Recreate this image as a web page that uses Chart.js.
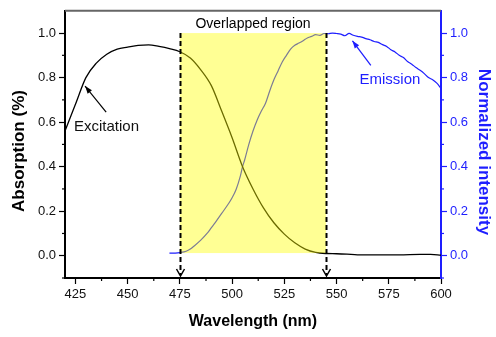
<!DOCTYPE html>
<html>
<head>
<meta charset="utf-8">
<script src="https://cdn.jsdelivr.net/npm/chart.js@4.4.1/dist/chart.umd.min.js"></script>
<style>
  body { margin: 0; background: #fff; }
  #wrap { width: 496px; height: 337px; }
</style>
</head>
<body>
<div id="wrap"><canvas id="spectraChart"></canvas></div>
<script>
  // excitation (absorption) spectrum
  const excWavelength = [420, 425, 430, 435, 440, 445, 450, 455, 460, 465, 470, 475, 480, 485, 490, 495, 500, 505, 510, 515, 520, 525, 530, 535, 540, 545, 550, 555, 560, 570, 580, 590, 595, 600];
  const excValues = [0.56, 0.68, 0.80, 0.865, 0.905, 0.928, 0.937, 0.945, 0.947, 0.94, 0.93, 0.916, 0.888, 0.835, 0.765, 0.65, 0.53, 0.40, 0.30, 0.215, 0.148, 0.097, 0.058, 0.030, 0.015, 0.010, 0.009, 0.007, 0.004, 0.004, 0.004, 0.006, 0.006, 0.003];

  // normalized emission spectrum
  const emWavelength = [470, 472, 474, 475, 478, 480, 482, 485, 488, 490, 492, 495, 498, 500, 502, 504, 505, 506, 508, 510, 512, 514, 516, 518, 520, 522, 524, 526, 528, 530, 532, 534, 536, 538, 540, 542, 544, 546, 548, 550, 552, 554, 556, 558, 560, 562, 564, 566, 568, 570, 572, 574, 576, 578, 580, 582, 584, 586, 588, 590, 592, 594, 596, 598, 600];
  const emValues = [0.012, 0.012, 0.013, 0.014, 0.02, 0.03, 0.045, 0.07, 0.10, 0.125, 0.15, 0.19, 0.23, 0.26, 0.30, 0.36, 0.40, 0.43, 0.50, 0.56, 0.61, 0.65, 0.685, 0.74, 0.79, 0.83, 0.87, 0.90, 0.928, 0.945, 0.955, 0.966, 0.978, 0.985, 0.993, 0.99, 0.998, 0.997, 1.0, 0.998, 0.995, 0.988, 0.999, 0.99, 0.985, 0.982, 0.975, 0.97, 0.962, 0.958, 0.948, 0.94, 0.925, 0.915, 0.9, 0.89, 0.872, 0.86, 0.845, 0.833, 0.818, 0.80, 0.79, 0.775, 0.752];

  const xTicks = [425, 450, 475, 500, 525, 550, 575, 600];
  const xMinorTicks = [437.5, 462.5, 487.5, 512.5, 537.5, 562.5, 587.5];
  const yTicks = [0.0, 0.2, 0.4, 0.6, 0.8, 1.0];
  const yMinorTicks = [-0.1, 0.1, 0.3, 0.5, 0.7, 0.9];

  const overlapRange = [475, 545];
  const overlapLevels = [0.012, 1.0];

  const BLUE = '#1e1eff';
  const tickFont = { family: 'Liberation Sans, Arial, sans-serif', size: 13 };

  const toPoints = (xs, ys) => xs.map((v, i) => ({ x: v, y: ys[i] }));
  const fixedTicks = list => scale => { scale.ticks = list.map(v => ({ value: v })); };

  function arrow(ctx, x1, y1, x2, y2, color) {
    const ang = Math.atan2(y2 - y1, x2 - x1);
    ctx.strokeStyle = color;
    ctx.fillStyle = color;
    ctx.lineWidth = 1.2;
    ctx.beginPath();
    ctx.moveTo(x1, y1);
    ctx.lineTo(x2, y2);
    ctx.stroke();
    ctx.beginPath();
    ctx.moveTo(x2, y2);
    ctx.lineTo(x2 - 8 * Math.cos(ang - 0.35), y2 - 8 * Math.sin(ang - 0.35));
    ctx.lineTo(x2 - 8 * Math.cos(ang + 0.35), y2 - 8 * Math.sin(ang + 0.35));
    ctx.closePath();
    ctx.fill();
  }

  const decorations = {
    id: 'decorations',
    afterDatasetsDraw(chart) {
      const { ctx, chartArea: a, scales: { x, y } } = chart;
      ctx.save();

      // overlapped band, translucent so the curves show through it
      const bx0 = x.getPixelForValue(overlapRange[0]);
      const bx1 = x.getPixelForValue(overlapRange[1]);
      const by0 = y.getPixelForValue(overlapLevels[1]);
      const by1 = y.getPixelForValue(overlapLevels[0]);
      ctx.fillStyle = 'rgba(255, 255, 0, 0.42)';
      ctx.fillRect(bx0, by0, bx1 - bx0, by1 - by0);

      // dashed boundaries with arrow heads
      const tip = a.bottom - 2;
      overlapRange.forEach(v => {
        const px = Math.round(x.getPixelForValue(v)) + 0.5;
        ctx.strokeStyle = '#000';
        ctx.lineWidth = 2;
        ctx.setLineDash([5, 3]);
        ctx.beginPath();
        ctx.moveTo(px, by0);
        ctx.lineTo(px, tip - 1);
        ctx.stroke();
        ctx.setLineDash([]);
        ctx.lineWidth = 1.5;
        ctx.beginPath();
        ctx.moveTo(px - 4, tip - 7);
        ctx.lineTo(px, tip);
        ctx.lineTo(px + 4, tip - 7);
        ctx.stroke();
      });

      // top frame line
      ctx.strokeStyle = '#666';
      ctx.lineWidth = 2;
      ctx.beginPath();
      ctx.moveTo(a.left, a.top);
      ctx.lineTo(a.right, a.top);
      ctx.stroke();

      // minor ticks
      ctx.lineWidth = 1.2;
      ctx.strokeStyle = '#000';
      xMinorTicks.forEach(v => {
        const px = x.getPixelForValue(v);
        ctx.beginPath();
        ctx.moveTo(px, a.bottom);
        ctx.lineTo(px, a.bottom + 3);
        ctx.stroke();
      });
      yMinorTicks.forEach(v => {
        const py = y.getPixelForValue(v);
        ctx.strokeStyle = '#000';
        ctx.beginPath();
        ctx.moveTo(a.left, py);
        ctx.lineTo(a.left - 3, py);
        ctx.stroke();
        ctx.strokeStyle = BLUE;
        ctx.beginPath();
        ctx.moveTo(a.right, py);
        ctx.lineTo(a.right + 3, py);
        ctx.stroke();
      });

      // annotations
      ctx.textBaseline = 'middle';
      ctx.fillStyle = '#000';
      ctx.textAlign = 'center';
      ctx.font = '14px Liberation Sans, Arial, sans-serif';
      ctx.fillText('Overlapped region', x.getPixelForValue(510), y.getPixelForValue(1.04));

      ctx.font = '15px Liberation Sans, Arial, sans-serif';
      ctx.textAlign = 'left';
      ctx.fillStyle = '#111';
      ctx.fillText('Excitation', x.getPixelForValue(424.3), y.getPixelForValue(0.578));
      arrow(ctx, x.getPixelForValue(439.7), y.getPixelForValue(0.645),
            x.getPixelForValue(429.6), y.getPixelForValue(0.762), '#000');

      ctx.fillStyle = BLUE;
      ctx.fillText('Emission', x.getPixelForValue(561), y.getPixelForValue(0.789));
      arrow(ctx, x.getPixelForValue(566.4), y.getPixelForValue(0.855),
            x.getPixelForValue(557.6), y.getPixelForValue(0.965), BLUE);

      // axis titles
      ctx.font = 'bold 17px Liberation Sans, Arial, sans-serif';
      ctx.textAlign = 'center';
      ctx.fillStyle = '#000';
      ctx.save();
      ctx.translate(19, 151);
      ctx.rotate(-Math.PI / 2);
      ctx.fillText('Absorption (%)', 0, 0);
      ctx.restore();

      ctx.fillStyle = BLUE;
      ctx.save();
      ctx.translate(484, 152);
      ctx.rotate(Math.PI / 2);
      ctx.fillText('Normalized intensity', 0, 0);
      ctx.restore();

      ctx.font = 'bold 16px Liberation Sans, Arial, sans-serif';
      ctx.fillStyle = '#000';
      ctx.fillText('Wavelength (nm)', (a.left + a.right) / 2, 322);

      ctx.restore();
    }
  };

  const ctx = document.getElementById('spectraChart').getContext('2d');
  new Chart(ctx, {
    type: 'line',
    data: {
      datasets: [{
        label: 'Excitation',
        data: toPoints(excWavelength, excValues),
        borderColor: '#000',
        borderWidth: 1.3,
        pointRadius: 0,
        cubicInterpolationMode: 'monotone',
        yAxisID: 'y'
      }, {
        label: 'Emission',
        data: toPoints(emWavelength, emValues),
        borderColor: BLUE,
        borderWidth: 1.2,
        pointRadius: 0,
        cubicInterpolationMode: 'monotone',
        yAxisID: 'y1'
      }]
    },
    options: {
      responsive: true,
      maintainAspectRatio: false,
      animation: false,
      layout: { padding: { top: 6, left: 0, right: 0, bottom: 0 } },
      plugins: {
        legend: { display: false },
        tooltip: { enabled: false }
      },
      scales: {
        x: {
          type: 'linear',
          min: 420,
          max: 600,
          afterBuildTicks: fixedTicks(xTicks),
          afterFit: s => { s.height = 59; },
          border: { color: '#000', width: 2 },
          grid: { drawOnChartArea: false, tickLength: 6, color: '#000', tickWidth: 1.2 },
          ticks: { font: tickFont, color: '#111', padding: 3, maxRotation: 0, autoSkip: false }
        },
        y: {
          position: 'left',
          min: -0.1,
          max: 1.1,
          afterBuildTicks: fixedTicks(yTicks),
          afterFit: s => { s.width = 65; },
          border: { color: '#000', width: 2 },
          grid: { drawOnChartArea: false, tickLength: 6, color: '#000', tickWidth: 1.2 },
          ticks: { font: tickFont, color: '#111', padding: 3, callback: v => v.toFixed(1) }
        },
        y1: {
          position: 'right',
          min: -0.1,
          max: 1.1,
          afterBuildTicks: fixedTicks(yTicks),
          afterFit: s => { s.width = 55; },
          border: { color: BLUE, width: 2 },
          grid: { drawOnChartArea: false, tickLength: 6, color: BLUE, tickWidth: 1.2 },
          ticks: { font: tickFont, color: BLUE, padding: 3, callback: v => v.toFixed(1) }
        }
      }
    },
    plugins: [decorations]
  });
</script>
</body>
</html>
